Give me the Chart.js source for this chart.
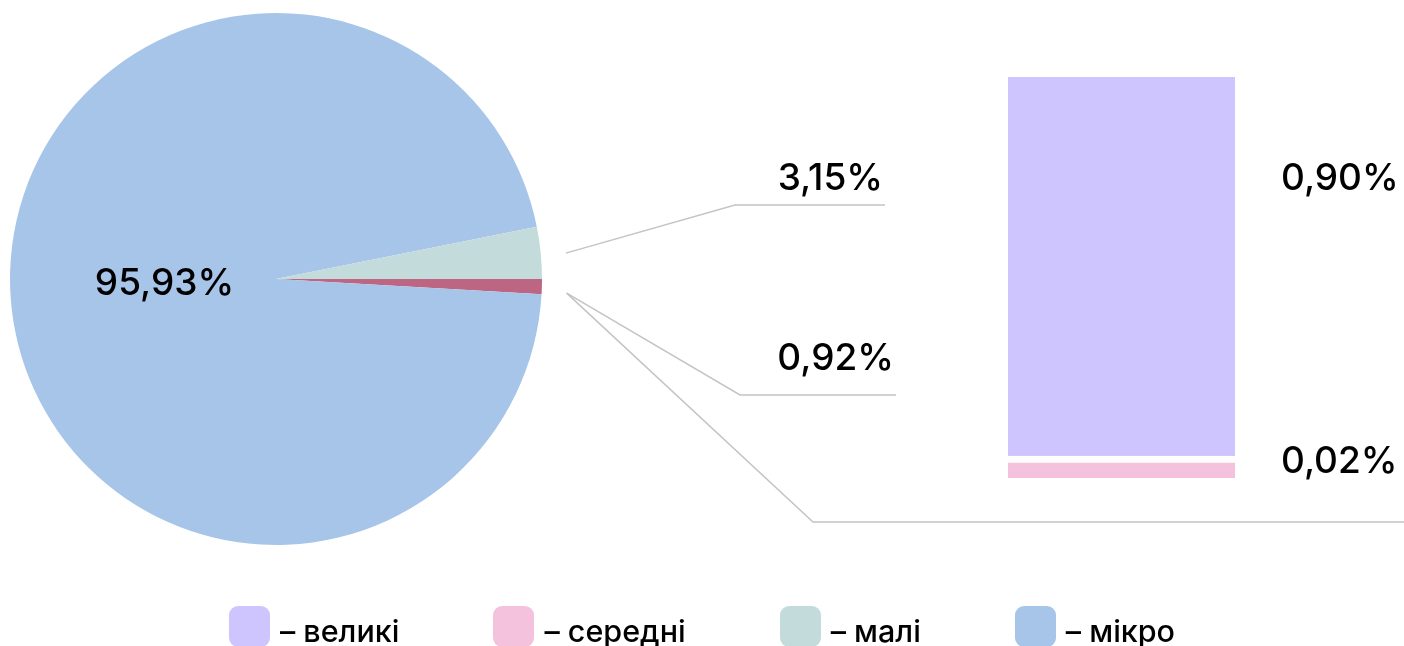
<!DOCTYPE html>
<html>
<head>
<meta charset="utf-8">
<script src="https://cdn.jsdelivr.net/npm/chart.js@4.4.1/dist/chart.umd.min.js"></script>
<style>
  html, body { margin: 0; padding: 0; background: #fff; width: 1404px; height: 646px; overflow: hidden; position: relative; }
  #pieChart { position: absolute; left: 0; top: 0; }
  #barChart { position: absolute; left: 980px; top: 60px; }
  #legend {
    position: absolute; left: 0; right: 0; top: 606px;
    display: flex; justify-content: center; gap: 94px;
    font-family: Inter, "Noto Sans", sans-serif; font-weight: 500; font-size: 30.5px; color: #000;
  }
  .item { display: flex; align-items: center; height: 48px; }
  .box { width: 41px; height: 41px; border-radius: 9px; margin-right: 10px; align-self: flex-start; }
</style>
</head>
<body>
<canvas id="pieChart" width="1404" height="646"></canvas>
<canvas id="barChart" width="424" height="440"></canvas>
<div id="legend"></div>

<script>
// ---- дані ----
const pieLabels = ["середні + великі", "мікро", "малі"];
const pieValues = [0.92, 95.93, 3.15];
const pieColors = ["#bd6684", "#a7c5e9", "#c3dbdb"];

const barLabels = ["середні", "великі"];
const barValues = [0.02, 0.90];
const barColors = ["#f4c2dc", "#cfc5fe"];

const legendLabels = ["великі", "середні", "малі", "мікро"];
const legendColors = ["#cfc5fe", "#f4c2dc", "#c3dbdb", "#a7c5e9"];

const NUM_FONT = "500 37px Inter, 'Noto Sans', sans-serif";
const LINE_COLOR = "#c4c4c4";

function fmt(v) {
    return v.toFixed(2).replace(".", ",") + "%";
}

// ---- легенда ----
let html = "";
legendLabels.forEach((l, i) => {
    html += `<div class="item"><div class="box" style="background:${legendColors[i]}"></div>– ${l}</div>`;
});
document.getElementById("legend").innerHTML = html;

// ---- виноски від пирога ----
// slice: індекс сектора, at: точка на дузі (частка), elbow: злам, end: кінець горизонталі
const callouts = [
    { slice: 2, at: 0.55, elbow: [735, 205], end: 885, label: 15 },
    { slice: 0, at: 0.84, elbow: [740, 395], end: 896, label: 25 },
    { slice: 0, at: 0.84, elbow: [813, 522], end: 1404, label: null }
];

const pieLabelsPlugin = {
    id: "pieLabels",
    afterDraw(chart) {
        const ctx = chart.ctx;
        const arcs = chart.getDatasetMeta(0).data;
        ctx.save();
        ctx.font = NUM_FONT;
        ctx.fillStyle = "#000";

        // підпис великого сектора всередині
        const big = arcs[1].getProps(["x", "y", "startAngle", "endAngle", "outerRadius"]);
        const midBig = (big.startAngle + big.endAngle) / 2;
        ctx.textAlign = "center";
        ctx.textBaseline = "alphabetic";
        ctx.fillText(fmt(pieValues[1]),
            big.x + Math.cos(midBig) * big.outerRadius * 0.42,
            big.y + Math.sin(midBig) * big.outerRadius * 0.42 + 8);

        // лінії-виноски
        ctx.strokeStyle = LINE_COLOR;
        ctx.lineWidth = 1.5;
        callouts.forEach(c => {
            const a = arcs[c.slice].getProps(["x", "y", "startAngle", "endAngle", "outerRadius"]);
            const ang = a.startAngle + (a.endAngle - a.startAngle) * c.at;
            const r = a.outerRadius + 25;
            ctx.beginPath();
            ctx.moveTo(a.x + Math.cos(ang) * r, a.y + Math.sin(ang) * r);
            ctx.lineTo(c.elbow[0], c.elbow[1]);
            ctx.lineTo(c.end, c.elbow[1]);
            ctx.stroke();
            if (c.label !== null) {
                ctx.textAlign = "right";
                ctx.fillText(fmt(pieValues[c.slice]), c.end - 2, c.elbow[1] - c.label);
            }
        });
        ctx.restore();
    }
};

new Chart(document.getElementById("pieChart"), {
    type: "pie",
    data: {
        labels: pieLabels,
        datasets: [{
            data: pieValues,
            backgroundColor: pieColors,
            borderWidth: 0
        }]
    },
    options: {
        responsive: false,
        animation: false,
        rotation: 90,
        layout: { padding: { left: 10, right: 862, top: 13, bottom: 101 } },
        plugins: { legend: { display: false }, tooltip: { enabled: false } }
    },
    plugins: [pieLabelsPlugin]
});

// ---- стовпчик справа ----
const barLabelsPlugin = {
    id: "barLabels",
    afterDraw(chart) {
        const ctx = chart.ctx;
        const area = chart.chartArea;
        ctx.save();
        ctx.font = NUM_FONT;
        ctx.fillStyle = "#000";
        ctx.textAlign = "left";
        ctx.textBaseline = "alphabetic";
        const bottom = chart.getDatasetMeta(0).data[0];
        ctx.fillText(fmt(barValues[1]), area.right + 46, area.top + 113);
        ctx.fillText(fmt(barValues[0]), area.right + 46, bottom.y + 17);
        ctx.restore();
    }
};

new Chart(document.getElementById("barChart"), {
    type: "bar",
    data: {
        labels: [""],
        datasets: barValues.map((v, i) => ({
            label: barLabels[i],
            data: [v],
            backgroundColor: barColors[i],
            borderColor: "#ffffff",
            borderWidth: i === 0 ? { top: 7, left: 0, right: 0, bottom: 0 } : 0,
            borderSkipped: false,
            minBarLength: i === 0 ? 22 : 0,
            barPercentage: 1,
            categoryPercentage: 1
        }))
    },
    options: {
        responsive: false,
        animation: false,
        layout: { padding: { left: 28, right: 169, top: 17, bottom: 22 } },
        scales: {
            x: { display: false, stacked: true },
            y: { display: false, stacked: true, min: 0, max: 0.92 }
        },
        plugins: { legend: { display: false }, tooltip: { enabled: false } }
    },
    plugins: [barLabelsPlugin]
});
</script>
</body>
</html>
